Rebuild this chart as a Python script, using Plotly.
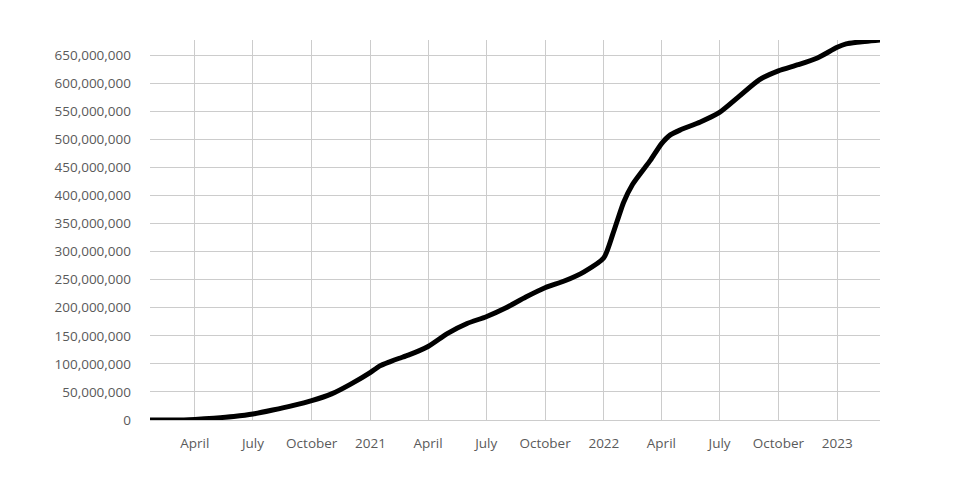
import plotly.graph_objects as go

dates = [
    "2020-01-22", "2020-02-15", "2020-03-01", "2020-03-15", "2020-04-01",
    "2020-05-01", "2020-06-01", "2020-07-01", "2020-08-01", "2020-09-01",
    "2020-10-01", "2020-11-01", "2020-12-01", "2021-01-01", "2021-01-15",
    "2021-02-01", "2021-02-15", "2021-03-01", "2021-04-01", "2021-05-01",
    "2021-06-01", "2021-07-01", "2021-08-01", "2021-09-01", "2021-10-01",
    "2021-11-01", "2021-12-01", "2022-01-01", "2022-01-15", "2022-02-01",
    "2022-02-15", "2022-03-01", "2022-03-15", "2022-04-01", "2022-04-15",
    "2022-05-01", "2022-06-01", "2022-07-01", "2022-08-01", "2022-09-01",
    "2022-10-01", "2022-11-01", "2022-12-01", "2023-01-01", "2023-01-15",
    "2023-02-01", "2023-03-09",
]
cases_millions = [
    0.0, 0.07, 0.09, 0.17, 1.0,
    3.3, 6.3, 10.6, 17.7, 25.6,
    34.5, 46.5, 64.0, 85.0, 96.0,
    104.0, 110.0, 115.5, 131.0, 154.0,
    172.0, 184.0, 200.0, 219.0, 235.5,
    248.0, 264.0, 289.0, 331.0, 388.0,
    420.0, 442.0, 463.0, 492.0, 508.0,
    517.0, 531.0, 548.0, 577.0, 606.0,
    622.0, 633.0, 645.0, 664.0, 670.0,
    673.0, 677.0,
]
cases = [v * 1_000_000 for v in cases_millions]

tick_dates = [
    "2020-04-01", "2020-07-01", "2020-10-01", "2021-01-01",
    "2021-04-01", "2021-07-01", "2021-10-01", "2022-01-01",
    "2022-04-01", "2022-07-01", "2022-10-01", "2023-01-01",
]
tick_labels = [
    "April", "July", "October", "2021",
    "April", "July", "October", "2022",
    "April", "July", "October", "2023",
]
y_ticks = list(range(0, 650_000_001, 50_000_000))

fig = go.Figure(
    go.Scatter(
        x=dates,
        y=cases,
        mode="lines",
        line=dict(color="#000000", width=5, shape="spline", smoothing=0.6),
        hoverinfo="x+y",
    )
)

fig.update_layout(
    width=960,
    height=500,
    margin=dict(l=142, r=88, t=32, b=88),
    paper_bgcolor="white",
    plot_bgcolor="white",
    showlegend=False,
    font=dict(family="Open Sans", size=13.5, color="#5a5a5a"),
)
fig.update_xaxes(
    type="date",
    range=["2020-01-22", "2023-03-09"],
    tickvals=tick_dates,
    ticktext=tick_labels,
    showgrid=True,
    gridcolor="#cccccc",
    gridwidth=1,
    showline=False,
    zeroline=False,
    ticks="",
    ticklabelstandoff=13,
)
fig.update_yaxes(
    range=[0, 677_000_000],
    tickvals=y_ticks,
    tickformat=",d",
    showgrid=True,
    gridcolor="#cccccc",
    gridwidth=1,
    zeroline=True,
    zerolinecolor="#cccccc",
    zerolinewidth=1,
    ticks="",
    ticklabelstandoff=18,
)

fig.write_html("out.html")
